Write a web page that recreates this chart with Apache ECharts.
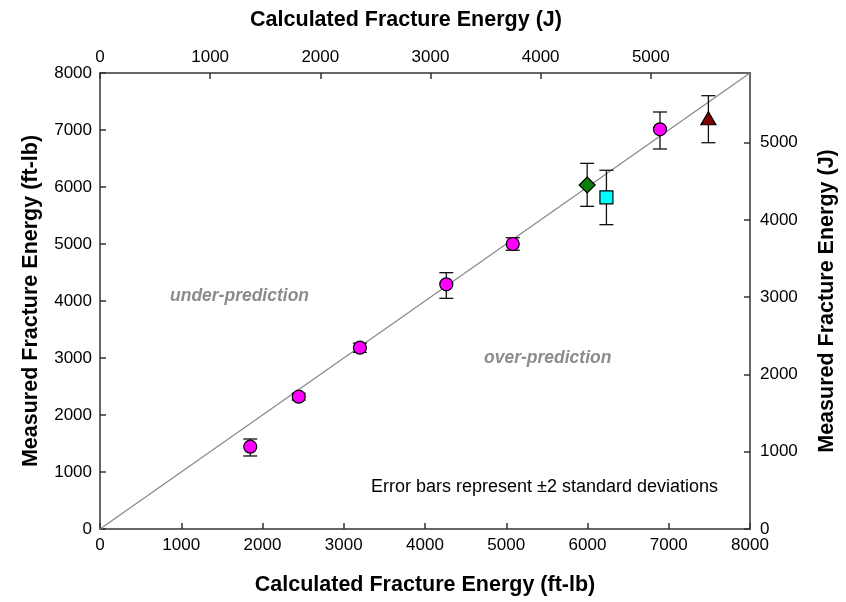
<!DOCTYPE html>
<html>
<head>
<meta charset="utf-8">
<script src="https://cdn.jsdelivr.net/npm/echarts@6/dist/echarts.min.js"></script>
<style>html,body{margin:0;padding:0;background:#fff;}#c{width:846px;height:602px;}</style>
</head>
<body>
<div id="c"></div>
<script>
// Calculated (x) and measured (y) fracture energy, ft-lb
var circleX = [1849, 2446, 3199, 4262, 5080, 6892];
var circleY = [1444, 2322, 3181, 4293, 5000, 7012];
var circleLo = [1281, 2262, 3099, 4047, 4890, 6667];
var circleHi = [1579, 2382, 3260, 4497, 5110, 7316];

var diamondX = [5996], diamondY = [6035], diamondLo = [5661], diamondHi = [6415];
var squareX = [6233], squareY = [5819], squareLo = [5339], squareHi = [6293];
var triangleX = [7488], triangleY = [7205], triangleLo = [6777], triangleHi = [7602];

var parityLine = [[0, 0], [8000, 8000]];
var FTLB_PER_J = 1.35582;
var axisMaxFtlb = 8000;

function pts(xs, ys) { return xs.map(function (x, i) { return [x, ys[i]]; }); }
function errs(xs, lo, hi) { return xs.map(function (x, i) { return [x, lo[i], hi[i]]; }); }

var allErr = [].concat(
  errs(circleX, circleLo, circleHi),
  errs(diamondX, diamondLo, diamondHi),
  errs(squareX, squareLo, squareHi),
  errs(triangleX, triangleLo, triangleHi)
);

var FONT = '"Liberation Sans", Arial, sans-serif';
var axisLineStyle = { color: '#333', width: 1.5 };
var fmt = function (v) { return String(Math.round(v)); };
var nameStyle = { fontFamily: FONT, fontSize: 21.5, fontWeight: 'bold', color: '#000' };
function lbl(margin) { return { fontFamily: FONT, fontSize: 17, color: '#000', margin: margin, formatter: fmt }; }

var chart = echarts.init(document.getElementById('c'), null, { renderer: 'canvas' });
chart.setOption({
  animation: false,
  backgroundColor: '#fff',
  grid: { left: 100, right: 94, top: 73, bottom: 73 },
  textStyle: { fontFamily: FONT },
  xAxis: [
    {
      type: 'value', position: 'bottom', min: 0, max: axisMaxFtlb, interval: 1000,
      name: 'Calculated Fracture Energy (ft-lb)', nameLocation: 'middle', nameGap: 45,
      nameTextStyle: nameStyle,
      axisLine: { onZero: false, lineStyle: axisLineStyle },
      axisTick: { inside: true, length: 6, lineStyle: axisLineStyle },
      axisLabel: lbl(8),
      splitLine: { show: false }
    },
    {
      type: 'value', position: 'top', min: 0, max: axisMaxFtlb / FTLB_PER_J, interval: 1000,
      name: 'Calculated Fracture Energy (J)', nameLocation: 'middle', nameGap: 42,
      nameTextStyle: Object.assign({}, nameStyle, { padding: [0, 38, 0, 0] }),
      axisLine: { onZero: false, lineStyle: axisLineStyle },
      axisTick: { inside: true, length: 6, lineStyle: axisLineStyle },
      axisLabel: Object.assign(lbl(7), { showMaxLabel: false }),
      splitLine: { show: false }
    }
  ],
  yAxis: [
    {
      type: 'value', position: 'left', min: 0, max: axisMaxFtlb, interval: 1000,
      name: 'Measured Fracture Energy (ft-lb)', nameLocation: 'middle', nameGap: 58,
      nameTextStyle: nameStyle,
      axisLine: { onZero: false, lineStyle: axisLineStyle },
      axisTick: { inside: true, length: 6, lineStyle: axisLineStyle },
      axisLabel: lbl(8),
      splitLine: { show: false }
    },
    {
      type: 'value', position: 'right', min: 0, max: axisMaxFtlb / FTLB_PER_J, interval: 1000,
      name: 'Measured Fracture Energy (J)', nameLocation: 'middle', nameGap: 66,
      nameTextStyle: nameStyle,
      axisLine: { onZero: false, lineStyle: axisLineStyle },
      axisTick: { inside: true, length: 6, lineStyle: axisLineStyle },
      axisLabel: Object.assign(lbl(10), { showMaxLabel: false }),
      splitLine: { show: false }
    }
  ],
  graphic: [
    { type: 'text', left: 170, top: 287, style: { text: 'under-prediction', font: 'italic bold 17.5px ' + FONT, fill: '#8c8c8c' } },
    { type: 'text', left: 484, top: 349, style: { text: 'over-prediction', font: 'italic bold 17.5px ' + FONT, fill: '#8c8c8c' } },
    { type: 'text', left: 371, top: 478, style: { text: 'Error bars represent \u00b12 standard deviations', font: '18px ' + FONT, fill: '#000' } }
  ],
  series: [
    {
      type: 'line', data: parityLine, symbol: 'none', silent: true,
      lineStyle: { color: '#888', width: 1.2 }, z: 1
    },
    {
      type: 'custom', data: allErr, z: 2, silent: true,
      encode: { x: 0, y: [1, 2] },
      renderItem: function (params, api) {
        var x = api.value(0);
        var lo = api.coord([x, api.value(1)]);
        var hi = api.coord([x, api.value(2)]);
        var hw = 7;
        var st = { stroke: '#111', lineWidth: 1.3 };
        return {
          type: 'group',
          children: [
            { type: 'line', shape: { x1: lo[0], y1: lo[1], x2: hi[0], y2: hi[1] }, style: st },
            { type: 'line', shape: { x1: lo[0] - hw, y1: lo[1], x2: lo[0] + hw, y2: lo[1] }, style: st },
            { type: 'line', shape: { x1: hi[0] - hw, y1: hi[1], x2: hi[0] + hw, y2: hi[1] }, style: st }
          ]
        };
      }
    },
    {
      type: 'scatter', data: pts(circleX, circleY), symbol: 'circle', symbolSize: 13, z: 3,
      itemStyle: { color: '#ff00ff', borderColor: '#000', borderWidth: 1.2, opacity: 1 }
    },
    {
      type: 'scatter', data: pts(diamondX, diamondY), symbol: 'diamond', symbolSize: [16, 16], z: 3,
      itemStyle: { color: '#0a7d0a', borderColor: '#000', borderWidth: 1.2, opacity: 1 }
    },
    {
      type: 'scatter', data: pts(squareX, squareY), symbol: 'rect', symbolSize: 13, z: 3,
      itemStyle: { color: '#00ffff', borderColor: '#000', borderWidth: 1.2, opacity: 1 }
    },
    {
      type: 'scatter', data: pts(triangleX, triangleY), symbol: 'triangle', symbolSize: [15, 13], z: 3,
      itemStyle: { color: '#800000', borderColor: '#000', borderWidth: 1.2, opacity: 1 }
    }
  ]
});
</script>
</body>
</html>
